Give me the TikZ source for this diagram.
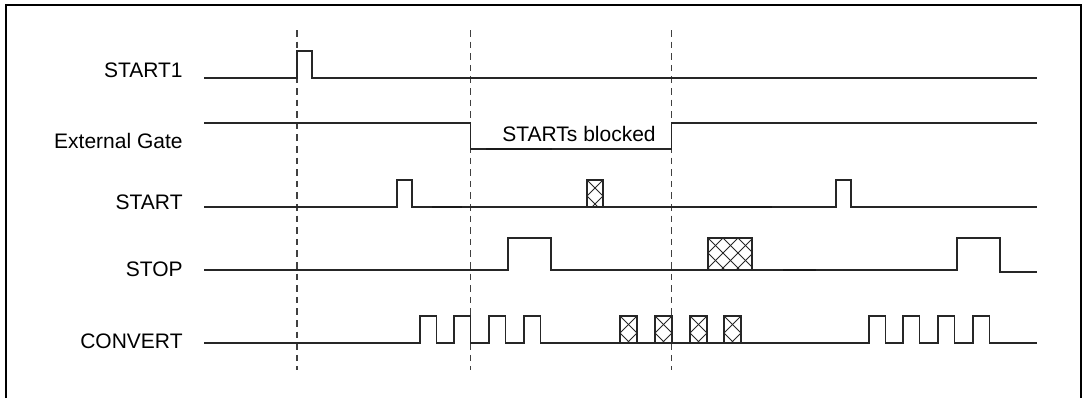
\documentclass[tikz,border=0pt]{standalone}
\usepackage{fontspec}
\setmainfont{Liberation Sans}

\begin{document}
\begin{tikzpicture}[x=0.5pt, y=-0.5pt,
    signal/.style={line width=0.6pt, black!85},
    heavy/.style={line width=0.9pt, black!90},
    hatch/.style={line width=0.45pt, black!85},
    marker/.style={line width=0.6pt, black!75, dash pattern=on 3.3pt off 2.5pt},
    lbl/.style={anchor=east, inner sep=0pt, font={\fontsize{10.5}{12}\selectfont}}]

    % Page size in pixels
    \useasboundingbox (0,0) rectangle (1086,398);

    % Levels (low / high) of each trace
    \def\xs{204}     % trace start
    \def\xe{1037}    % trace end
    \def\sao{78}     \def\sah{51}    % START1
    \def\gh{123}     \def\go{149}    % External Gate
    \def\sto{207}    \def\sth{180}   % START
    \def\spo{270}    \def\sph{238}   % STOP
    \def\cvo{343}    \def\cvh{316}   % CONVERT
    \def\w{16.8}     % CONVERT pulse width

    % Hatched (undefined) box: x1, x2, top, bottom, period
    \def\xhatch#1#2#3#4#5{%
        \begin{scope}
            \clip (#1,#3) rectangle (#2,#4);
            \foreach \k in {-4,...,6}{
                \draw[hatch] ({#1+\k*#5},#3) -- ++(60,60);
                \draw[hatch] ({#1+\k*#5},#3) -- ++(-60,60);
            }
        \end{scope}
        \draw[signal] (#1,#4) rectangle (#2,#3);
    }

    % Frame
    \draw[line width=1pt] (5.5,398) -- (5.5,4.5) -- (1081,4.5) -- (1081,398);

    % Labels
    \node[lbl] (start1) at (183,70.5)  {START1};
    \node[lbl] (gate)   at (183,140.5) {External Gate};
    \node[lbl] (start)  at (183,202.5) {START};
    \node[lbl] (stop)   at (183,269.5) {STOP};
    \node[lbl] (conv)   at (183,341)   {CONVERT};
    \node[inner sep=0pt, font={\fontsize{10.5}{12}\selectfont}] (blocked) at (579,133.5) {STARTs blocked};

    % Time markers
    \foreach \t in {297,470.5,671.5}{
        \draw[marker] (\t,30) -- (\t,370);
    }

    % START1
    \draw[signal] (\xs,\sao) -- (297,\sao) -- (297,\sah) -- (312,\sah) -- (312,\sao) -- (\xe,\sao);

    % External Gate
    \draw[signal] (\xs,\gh) -- (470.5,\gh) -- (470.5,\go) -- (671.5,\go) -- (671.5,\gh) -- (\xe,\gh);
    \draw[heavy] (486,\go) -- (552,\go);

    % START
    \draw[signal] (\xs,\sto) -- (397,\sto) -- (397,\sth) -- (412,\sth) -- (412,\sto)
        -- (836,\sto) -- (836,\sth) -- (851,\sth) -- (851,\sto) -- (\xe,\sto);
    \draw[heavy] (432,\sto) -- (462,\sto);
    \draw[heavy] (700,\sto) -- (772,\sto);
    \xhatch{587}{603}{\sth}{\sto}{16}

    % STOP
    \draw[signal] (\xs,\spo) -- (508,\spo) -- (508,\sph) -- (551,\sph) -- (551,\spo)
        -- (957,\spo) -- (957,\sph) -- (1000,\sph) -- (1000,272) -- (\xe,272);
    \draw[heavy] (783,\spo) -- (816,\spo);
    \xhatch{708}{752}{\sph}{\spo}{15}

    % CONVERT
    \draw[signal] (\xs,\cvo)
        foreach \x in {420,454,489,524,869,903,938,973}{
            -- (\x,\cvo) -- (\x,\cvh) -- ({\x+\w},\cvh) -- ({\x+\w},\cvo)
        } -- (\xe,\cvo);
    \foreach \x in {620,655,690,724}{
        \xhatch{\x}{\x+17}{\cvh}{\cvo}{17}
    }

\end{tikzpicture}
\end{document}
